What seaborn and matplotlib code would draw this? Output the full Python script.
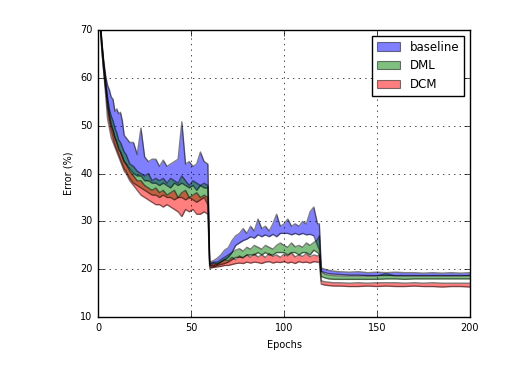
import matplotlib
matplotlib.use("Agg")
import matplotlib.pyplot as plt
import matplotlib.patches as mpatches
import seaborn as sns

epochs = [1, 2, 3, 4, 5, 6, 7, 8, 9, 10, 11, 12, 13, 14, 15,
          17, 19, 21, 23, 25, 27, 29, 31, 33, 35, 37, 39, 41, 43, 45, 47, 49, 51, 53, 55, 57, 59,
          60, 62, 64, 66, 68, 70, 72, 74, 76, 78, 80, 82, 84, 86, 88, 90, 92, 94, 96, 98,
          100, 102, 104, 106, 108, 110, 112, 114, 116, 118, 119,
          120, 122, 124, 127, 130, 135, 140, 145, 150, 155, 160, 165, 170, 175, 180, 185, 190, 195, 200]

# baseline band (upper / lower)
base_hi = [72.5, 67.5, 63.5, 60.5, 58.5, 57.5, 56, 55.5, 53, 53.5, 52.5, 52.8, 51, 48, 47.5,
           46.5, 46.5, 44, 49.5, 43.5, 42.5, 43, 43, 41.5, 42.8, 41.5, 42, 42.5, 43, 50.8, 42, 42.5, 41.5, 42, 44.5, 42.5, 42,
           21.5, 21.8, 22.3, 23, 24, 24.5, 26, 27, 27.5, 28.5, 27.5, 29, 28, 30.5, 28.5, 29, 28, 29.5, 31.5, 29,
           29.5, 30.5, 29, 29.5, 29, 30, 29.5, 32, 33, 29.5, 29.5,
           20.3, 20, 19.8, 19.6, 19.5, 19.4, 19.5, 19.3, 19.4, 19.3, 19.4, 19.3, 19.3, 19.2, 19.3, 19.2, 19.3, 19.2, 19.3]
base_lo = [71.5, 66, 61.5, 58, 55, 52.5, 50.5, 49, 47.5, 46.5, 45.5, 44.5, 43.5, 42.5, 42,
           41, 40, 39.5, 39.5, 38.5, 38.5, 38, 38, 37.5, 38, 37.5, 37, 38, 37.5, 38, 37.5, 37, 37.5, 36.5, 37.5, 37, 37,
           20.8, 20.8, 21, 21.5, 22, 22.5, 23.5, 25, 25.5, 26, 26.3, 26.8, 26.5, 27.2, 26.8, 27.2, 26.8, 27.3, 26.8, 27.5,
           27.5, 27.5, 27.2, 27.5, 27.2, 27.5, 27.2, 27.3, 27, 25, 24,
           19.6, 19.3, 19.1, 19, 18.9, 18.8, 18.8, 18.7, 18.7, 18.7, 18.7, 18.7, 18.7, 18.7, 18.7, 18.7, 18.7, 18.7, 18.7]

# DML band
dml_hi = [72.3, 67.2, 63, 59.5, 56, 53.5, 52, 51, 49.5, 48.5, 47, 46.5, 45.5, 44.5, 44,
          42, 41.5, 40.5, 40, 39.5, 40, 38.5, 39, 38.5, 39, 38, 39, 38.5, 38, 39.5, 38.5, 37.5, 38.5, 38, 37.5, 38, 37.5,
          21.2, 21.5, 21.5, 22, 22.5, 23, 23.5, 24, 24.3, 23.8, 24.6, 24.2, 25, 24.6, 24.2, 25, 24.6, 24.2, 25, 25.5,
          25, 24.6, 25.5, 24.7, 25, 24.6, 25.5, 25, 25.6, 26.2, 27,
          19.5, 19, 18.8, 18.7, 18.6, 18.6, 18.6, 18.6, 18.6, 19.1, 18.6, 18.6, 18.6, 18.6, 18.6, 18.6, 18.6, 18.6, 18.7]
dml_lo = [71.3, 65.8, 61.3, 57.5, 53.5, 51, 49, 47.5, 46, 45, 44, 43, 42, 41, 40.5,
          39, 38, 37.5, 37, 36.5, 36, 35.5, 35.5, 35, 35.5, 35, 35, 34.5, 35, 35, 34.5, 35, 34.5, 34, 34.5, 35, 33.5,
          20.5, 20.5, 20.8, 21, 21.2, 21.5, 22, 22.5, 22.5, 22.5, 23, 23, 23, 23.5, 23, 23.5, 23, 23, 23.5, 23.5,
          23.5, 23, 23.5, 23.5, 23, 23.5, 23.5, 23, 24, 23.5, 23,
          18.5, 18.2, 18, 17.9, 17.9, 17.9, 17.9, 17.9, 17.9, 18, 18, 17.9, 18, 18, 18, 18, 18, 18, 18]

# DCM band
dcm_hi = [72, 67, 62.7, 59, 55, 52, 50, 49, 47.5, 46.5, 45, 44.5, 43.5, 42.5, 42,
          40.5, 39.5, 38.5, 38.5, 37.5, 37, 36.5, 37, 36, 36.5, 35.5, 36, 36.5, 35, 36, 36.5, 35, 35.5, 36, 35, 35.5, 35,
          21, 21.3, 21.2, 21.5, 22, 21.8, 22.5, 22, 22.8, 22.3, 23, 22.5, 23.2, 22.6, 23, 22.5, 23.3, 22.7, 23, 22.5,
          23.2, 22.8, 23.4, 22.6, 23, 22.7, 23.3, 22.6, 23, 22.8, 23,
          17.6, 17.4, 17.3, 17.2, 17.2, 17.1, 17.2, 17.1, 17.2, 17.2, 17.2, 17.1, 17.2, 17.1, 17.2, 17.1, 17.1, 17.1, 17.1]
dcm_lo = [71, 65.5, 61, 56.5, 51.5, 49.5, 47.5, 46.5, 45.5, 44.5, 43.5, 42.5, 41.5, 40.5, 40,
          38.5, 37.5, 36.5, 35.5, 35, 34.5, 34, 33.5, 33.5, 33, 33.5, 33, 32.5, 32, 31, 32.5, 32, 32.5, 31.5, 31.5, 32, 31.5,
          20.2, 20.4, 20.5, 20.6, 20.8, 20.8, 21, 21.2, 21.3, 21.2, 21.5, 21.3, 21.5, 21.4, 21.2, 21.5, 21.6, 21.3, 21.5, 21.4,
          21.6, 21.3, 21.5, 21.2, 21.6, 21.4, 21.5, 21.3, 21.6, 21.5, 21.5,
          16.9, 16.7, 16.6, 16.5, 16.5, 16.4, 16.4, 16.5, 16.4, 16.5, 16.4, 16.4, 16.5, 16.4, 16.4, 16.3, 16.4, 16.4, 16.3]

plt.style.use("classic")
plt.rcParams["font.family"] = ["DejaVu Sans"]

fig, ax = plt.subplots(figsize=(5.28, 3.65), dpi=100)
fig.subplots_adjust(left=0.186, right=0.89, bottom=0.131, top=0.918)

bands = [
    ("baseline", base_lo, base_hi, "b"),
    ("DML", dml_lo, dml_hi, "g"),
    ("DCM", dcm_lo, dcm_hi, "r"),
]

handles = []
for name, lo, hi, col in bands:
    ax.fill_between(epochs, lo, hi, color=col, alpha=0.5, linewidth=0)
    # dark outline of each band
    for edge in (lo, hi):
        sns.lineplot(x=epochs, y=edge, color="k", alpha=0.5, linewidth=1.0, ax=ax)
    handles.append(mpatches.Patch(facecolor=col, edgecolor="k", alpha=0.5, linewidth=0.8, label=name))

ax.set_xlim(0, 200)
ax.set_ylim(10, 70)
ax.set_xticks([0, 50, 100, 150, 200])
ax.set_yticks([10, 20, 30, 40, 50, 60, 70])
ax.grid(True)
ax.set_xlabel("Epochs", fontsize=7)
ax.set_ylabel("Error (%)", fontsize=7)
ax.tick_params(labelsize=7)
ax.legend(handles=handles, loc="upper right", fontsize=8.5)

fig.savefig("out.png", dpi=100)
